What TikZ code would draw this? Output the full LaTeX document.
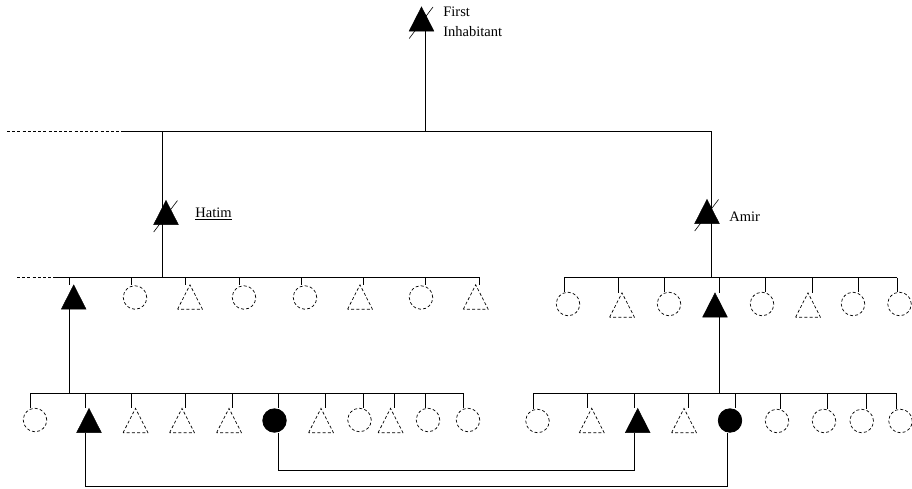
\documentclass[tikz,border=0pt]{standalone}
\usepackage{fontspec}
\setmainfont{Liberation Serif}
\usetikzlibrary{calc}
\tikzset{
  dsh/.style={dash pattern=on 3pt off 2.2pt},
  dcirc/.style={circle, draw, dsh, minimum size=23.5pt, inner sep=0pt, line width=0.7pt},
  fcirc/.style={circle, draw, fill=black, minimum size=23.5pt, inner sep=0pt},
  tbox/.style={rectangle, draw=none, minimum width=24pt, minimum height=23.5pt, inner sep=0pt},
  slash/.style={line width=0.6pt},
  lbl/.style={inner sep=0pt, anchor=base west},
}
\newcommand{\FT}[3]{\node[tbox] (#1) at (#2,#3) {};\filldraw[line width=0.4pt] (#1.south west) -- (#1.north) -- (#1.south east) -- cycle;}
\newcommand{\DT}[3]{\node[tbox] (#1) at (#2,#3) {};\draw[dsh, line width=0.7pt] (#1.south west) -- (#1.north) -- (#1.south east) -- cycle;}
\newcommand{\DC}[3]{\node[dcirc] (#1) at (#2,#3) {};}
\newcommand{\FC}[3]{\node[fcirc] (#1) at (#2,#3) {};}
\newcommand{\kid}[6]{#2{#1}{#3}{#4}\draw (#5,#6) -- (#5,#6 |- #1.north);}
\newcommand{\dead}[1]{\draw[slash] ($(#1)+(-12.3,19.5)$) -- ($(#1)+(11.5,-12)$);}
\begin{document}
\begin{tikzpicture}[x=1pt,y=-1pt,line width=0.8pt,font=\fontsize{14.5}{17}\selectfont]
\useasboundingbox (0,0) rectangle (912,488);

% top generation
\coordinate (t0) at (425,131);
\coordinate (tl) at (7,131);
\coordinate (tm) at (122,131);
\coordinate (tr) at (711,131);
\coordinate (h0) at (162,131);
\coordinate (h1) at (162,277);
\coordinate (a1) at (711,277.7);
\draw (425,31) -- (t0);
\FT{fi}{421.5}{19}
\dead{fi}
\node[lbl] (fi1) at (443,16.8) {First};
\node[lbl] (fi2) at (443,36.7) {Inhabitant};
\draw[dsh] (tl) -- (tm);
\draw (tm) -- (tr);

% Hatim and Amir
\draw (h0) -- (h1);
\FT{hatim}{166}{212.5}
\dead{hatim}
\node[lbl] (hatimtx) at (195,217.8) {\underline{Hatim}};
\draw (tr) -- (a1);
\FT{amir}{707}{211.5}
\dead{amir}
\node[lbl] (amirtx) at (729,221.5) {Amir};

% second generation, left
\coordinate (L2a) at (17,277);
\coordinate (L2b) at (55,277);
\coordinate (L2c) at (479,277);
\draw[dsh] (L2a) -- (L2b);
\draw (L2b) -- (L2c);
\kid{l21}{\FT}{73.7}{297}{69.3}{277}
\kid{l22}{\DC}{135}{297.5}{131}{277}
\kid{l23}{\DT}{190}{297}{185.7}{277}
\kid{l24}{\DC}{244}{297.5}{239}{277}
\kid{l25}{\DC}{305}{297.5}{301.7}{277}
\kid{l26}{\DT}{360}{297}{363}{277}
\kid{l27}{\DC}{421}{297.5}{425.7}{277}
\kid{l28}{\DT}{475.7}{297}{479}{277}

% second generation, right
\coordinate (R2a) at (564,277.7);
\coordinate (R2b) at (897,277.7);
\draw (R2a) -- (R2b);
\kid{r21}{\DC}{568}{304}{564}{277.7}
\kid{r22}{\DT}{622}{305}{618}{277.7}
\kid{r23}{\DC}{669}{304}{664}{277.7}
\kid{r24}{\FT}{715}{305}{719}{277.7}
\kid{r25}{\DC}{762}{304}{765}{277.7}
\kid{r26}{\DT}{808}{305}{812}{277.7}
\kid{r27}{\DC}{853}{304}{858}{277.7}
\kid{r28}{\DC}{899.5}{304}{897}{277.7}

% links to third generation
\coordinate (L3j) at (69.3,393.3);
\coordinate (R3j) at (719,393.3);
\draw (l21.south -| L3j) -- (L3j);
\draw (r24.south -| R3j) -- (R3j);

% third generation, left
\coordinate (L3a) at (30.7,393.3);
\coordinate (L3b) at (463,393.3);
\draw (L3a) -- (L3b);
\kid{l31}{\DC}{35}{420}{30.7}{393.3}
\kid{l32}{\FT}{89}{420.5}{85.7}{393.3}
\kid{l33}{\DT}{135.5}{420.5}{131}{393.3}
\kid{l34}{\DT}{182}{420.5}{185.7}{393.3}
\kid{l35}{\DT}{229}{420.5}{232}{393.3}
\kid{l36}{\FC}{274.5}{420.5}{278}{393.3}
\kid{l37}{\DT}{321}{420.5}{325}{393.3}
\kid{l38}{\DC}{359.5}{420}{363}{393.3}
\kid{l39}{\DT}{390.5}{420.5}{394}{393.3}
\kid{l310}{\DC}{428}{420}{425.7}{393.3}
\kid{l311}{\DC}{468}{420}{463}{393.3}

% third generation, right
\coordinate (R3a) at (533,393.3);
\coordinate (R3b) at (897,393.3);
\draw (R3a) -- (R3b);
\kid{r31}{\DC}{537.5}{421}{533}{393.3}
\kid{r32}{\DT}{591.7}{420.5}{587}{393.3}
\kid{r33}{\FT}{637.7}{420.5}{634}{393.3}
\kid{r34}{\DT}{684}{420.5}{688}{393.3}
\kid{r35}{\FC}{730}{420.5}{735}{393.3}
\kid{r36}{\DC}{777}{421}{780.7}{393.3}
\kid{r37}{\DC}{824}{421}{827}{393.3}
\kid{r38}{\DC}{861.7}{421}{866}{393.3}
\kid{r39}{\DC}{900.5}{421}{896.7}{393.3}

% marriage links
\coordinate (m1) at (278,470);
\coordinate (m2) at (634,470);
\coordinate (m3) at (85.7,486);
\coordinate (m4) at (727.7,486);
\draw (l36.south -| m1) -- (m1) -- (m2) -- (r33.south -| m2);
\draw (l32.south -| m3) -- (m3) -- (m4) -- (r35.south -| m4);
\end{tikzpicture}
\end{document}
